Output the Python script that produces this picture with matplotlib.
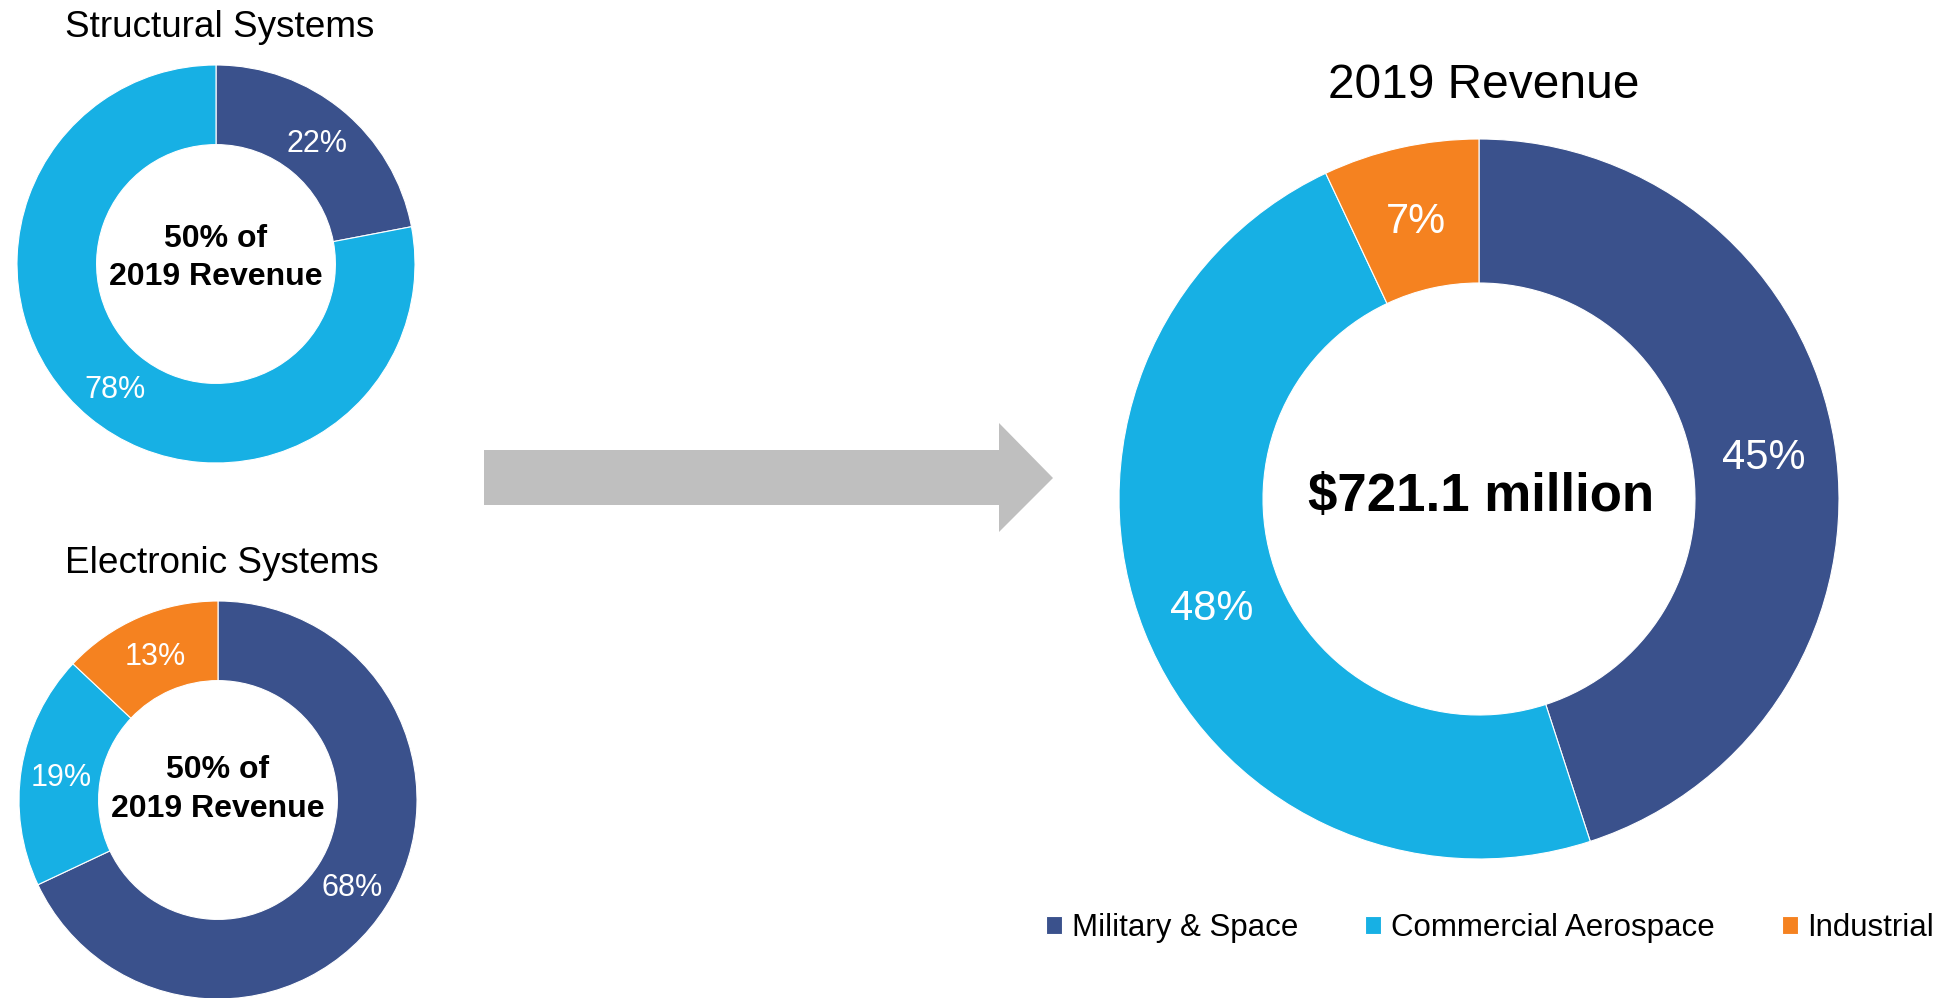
import matplotlib
matplotlib.use("Agg")
import matplotlib.pyplot as plt
from matplotlib.patches import Polygon

plt.rcParams['font.family'] = ['Liberation Sans', 'DejaVu Sans']

segments = ["Military & Space", "Commercial Aerospace", "Industrial"]
colors = ["#3A518C", "#17B0E4", "#F58220"]

structural = [22, 78]          # Military, Commercial
electronic = [68, 19, 13]      # Military, Commercial, Industrial
total = [45, 48, 7]

W, H = 1952, 998
fig = plt.figure(figsize=(W / 100, H / 100), dpi=100)
ax = fig.add_axes([0, 0, 1, 1])


def Y(y):
    # pixel row (from top) -> data y (from bottom)
    return H - y


def donut(vals, cx, cy, r, fs):
    wedges, _, pcts = ax.pie(vals, colors=colors[:len(vals)], startangle=90, counterclock=False,
                             center=(cx, Y(cy)), radius=r, autopct='%.0f%%', pctdistance=0.8,
                             wedgeprops=dict(width=0.4 * r, edgecolor='white', linewidth=0.8),
                             textprops=dict(color='white', fontsize=fs))
    # put the cap-height centre on the ring, not the full text box
    for t in pcts:
        x, y = t.get_position()
        t.set_position((x, y - 0.358 * fs * 100 / 72))
        t.set_va('baseline')
    return wedges


def label(x, base, s, fs, **kw):
    ax.text(x, Y(base), s, fontsize=fs, ha='center', va='baseline', **kw)


donut(structural, 216, 264, 199, 22)
donut(electronic, 218, 800, 199, 22)
big = donut(total, 1479, 499, 360, 30)

label(220, 37, "Structural Systems", 26.6)
label(222, 573, "Electronic Systems", 26.6)
label(1484, 98, "2019 Revenue", 34.5)

label(216, 247, "50% of", 23, fontweight='bold')
label(216, 285, "2019 Revenue", 23, fontweight='bold')
label(218, 778, "50% of", 23, fontweight='bold')
label(218, 817, "2019 Revenue", 23, fontweight='bold')
label(1481, 511, "$721.1 million", 38, fontweight='bold')

arrow = [(484, 450), (999, 450), (999, 423), (1053, 478), (999, 532), (999, 505), (484, 505)]
ax.add_patch(Polygon([(x, Y(y)) for x, y in arrow], closed=True, facecolor='#BFBFBF', edgecolor='none'))

ax.legend(big, segments, loc='center', bbox_to_anchor=(1490, Y(928)),
          bbox_transform=ax.transData, ncol=3, frameon=False, fontsize=22.5,
          handlelength=0.52, handleheight=0.5, handletextpad=0.3, columnspacing=2.15,
          borderpad=0, borderaxespad=0)

ax.set_xlim(0, W)
ax.set_ylim(0, H)
ax.set_aspect('equal')
ax.axis('off')

fig.savefig("out.png", dpi=100, facecolor='white')
